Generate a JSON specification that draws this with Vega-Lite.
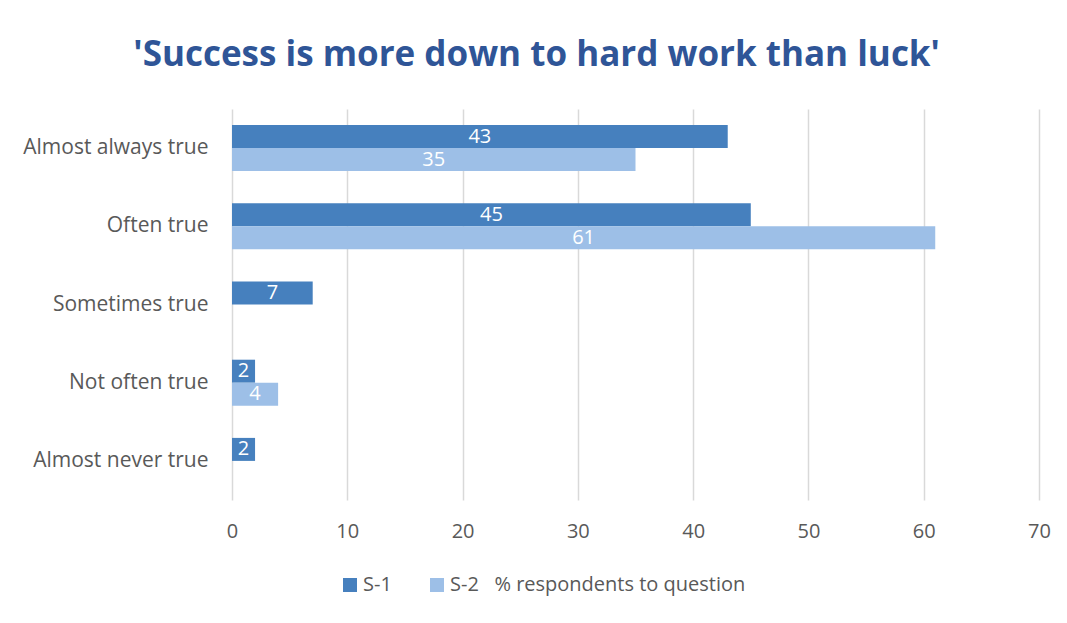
{
  "$schema": "https://vega.github.io/schema/vega-lite/v6.json",
  "width": 807,
  "height": 391,
  "autosize": "none",
  "padding": {"left": 232, "top": 109, "right": 28, "bottom": 123},
  "background": "white",
  "title": {
    "text": "'Success is more down to hard work than luck'",
    "font": "Open Sans",
    "fontSize": 35,
    "fontWeight": "bold",
    "color": "#2F5597",
    "anchor": "middle",
    "frame": "bounds",
    "offset": 36
  },
  "data": {
    "values": [
      {"category": "Almost always true", "series": "S-1", "value": 43},
      {"category": "Almost always true", "series": "S-2\u00a0\u00a0 % respondents to question", "value": 35},
      {"category": "Often true", "series": "S-1", "value": 45},
      {"category": "Often true", "series": "S-2\u00a0\u00a0 % respondents to question", "value": 61},
      {"category": "Sometimes true", "series": "S-1", "value": 7},
      {"category": "Sometimes true", "series": "S-2\u00a0\u00a0 % respondents to question", "value": 0},
      {"category": "Not often true", "series": "S-1", "value": 2},
      {"category": "Not often true", "series": "S-2\u00a0\u00a0 % respondents to question", "value": 4},
      {"category": "Almost never true", "series": "S-1", "value": 2},
      {"category": "Almost never true", "series": "S-2\u00a0\u00a0 % respondents to question", "value": 0}
    ]
  },
  "encoding": {
    "y": {
      "field": "category",
      "type": "nominal",
      "sort": ["Almost always true", "Often true", "Sometimes true", "Not often true", "Almost never true"],
      "scale": {"paddingInner": 0, "paddingOuter": 0},
      "axis": {
        "title": null,
        "domain": false,
        "ticks": false,
        "labelFont": "Open Sans",
        "labelFontSize": 21,
        "labelColor": "#595959",
        "labelPadding": 24,
        "labelLimit": 400
      }
    },
    "yOffset": {
      "field": "series",
      "type": "nominal",
      "scale": {"paddingInner": 0, "paddingOuter": 0.7}
    }
  },
  "layer": [
    {
      "mark": {"type": "bar"},
      "encoding": {
        "x": {
          "field": "value",
          "type": "quantitative",
          "scale": {"domain": [0, 70], "nice": false},
          "axis": {
            "title": null,
            "values": [0, 10, 20, 30, 40, 50, 60, 70],
            "domain": false,
            "ticks": false,
            "grid": true,
            "gridColor": "#D9D9D9",
            "gridWidth": 1.5,
            "labelFlush": false,
            "labelFont": "Open Sans",
            "labelFontSize": 20,
            "labelColor": "#595959",
            "labelPadding": 21
          }
        },
        "color": {
          "field": "series",
          "type": "nominal",
          "scale": {"domain": ["S-1", "S-2\u00a0\u00a0 % respondents to question"], "range": ["#4680BE", "#9DBFE7"]},
          "legend": {
            "title": null,
            "orient": "none",
            "direction": "horizontal",
            "legendX": 108,
            "legendY": 466,
            "symbolType": "square",
            "symbolSize": 196,
            "symbolStrokeWidth": 0,
            "labelFont": "Open Sans",
            "labelFontSize": 20,
            "labelColor": "#595959",
            "labelOffset": 3,
            "labelLimit": 600,
            "columnPadding": 35
          }
        }
      }
    },
    {
      "transform": [{"filter": "datum.value > 0"}],
      "mark": {"type": "text", "color": "white", "font": "Open Sans", "fontSize": 20, "baseline": "middle", "align": "center"},
      "encoding": {
        "x": {
          "field": "value",
          "type": "quantitative",
          "scale": {"domain": [0, 140], "nice": false},
          "axis": null
        },
        "text": {"field": "value", "type": "quantitative"}
      }
    }
  ],
  "resolve": {"scale": {"x": "independent"}},
  "config": {"view": {"stroke": null}}
}
